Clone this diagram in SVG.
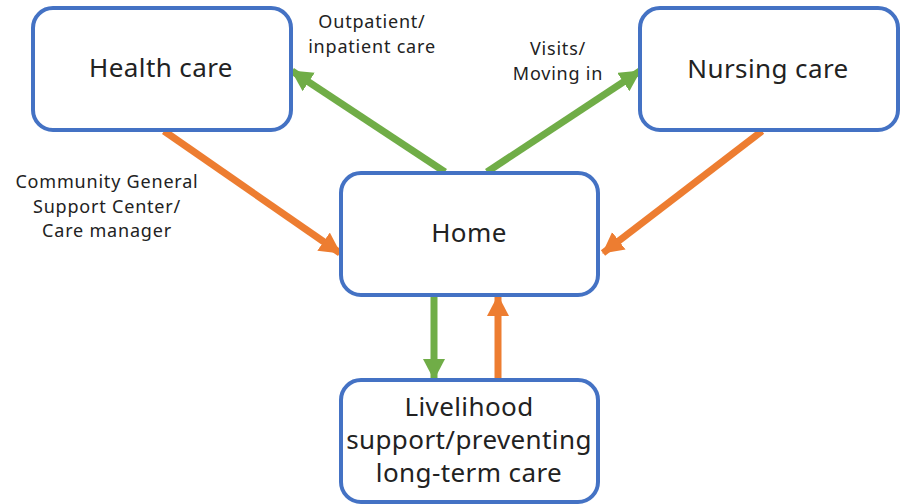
<svg xmlns="http://www.w3.org/2000/svg" width="901" height="504" viewBox="0 0 901 504">
<style>
.box{fill:#fff;stroke:#4472C4;stroke-width:4}
.t{font-family:"Noto Sans","DejaVu Sans",sans-serif;fill:#222;text-anchor:middle}
.big{font-size:26px;letter-spacing:0.4px}
.lbl{font-size:18px;letter-spacing:0.8px}
.g{stroke:#70AD47;stroke-width:7;fill:none}
.o{stroke:#ED7D31;stroke-width:7;fill:none}
</style>
<defs>
<marker id="ag" markerUnits="userSpaceOnUse" markerWidth="24" markerHeight="24" refX="20" refY="11" orient="auto"><path d="M0,0 L21,11 L0,22 Z" fill="#70AD47"/></marker>
<marker id="ao" markerUnits="userSpaceOnUse" markerWidth="24" markerHeight="24" refX="20" refY="11" orient="auto"><path d="M0,0 L21,11 L0,22 Z" fill="#ED7D31"/></marker>
</defs>
<rect width="901" height="504" fill="#fff"/>
<g id="connectors">
<line class="g" x1="445" y1="172" x2="292" y2="71" marker-end="url(#ag)"/>
<line class="g" x1="487" y1="172" x2="640" y2="71" marker-end="url(#ag)"/>
<line class="o" x1="164" y1="131" x2="340" y2="253" marker-end="url(#ao)"/>
<line class="o" x1="762" y1="131" x2="603" y2="253" marker-end="url(#ao)"/>
<line class="g" x1="434" y1="296" x2="434" y2="379" marker-end="url(#ag)"/>
<line class="o" x1="498" y1="379" x2="498" y2="296" marker-end="url(#ao)"/>
<g id="connector-labels">
<text class="t lbl" x="372" y="28">Outpatient/</text>
<text class="t lbl" x="372" y="53">inpatient care</text>
<text class="t lbl" x="558" y="55">Visits/</text>
<text class="t lbl" x="558" y="80">Moving in</text>
<text class="t lbl" x="107" y="188">Community General</text>
<text class="t lbl" x="107" y="213">Support Center/</text>
<text class="t lbl" x="107" y="237">Care manager</text>
</g>
</g>
<g id="health-care">
<rect class="box" x="33" y="8" width="258" height="122" rx="20"/>
<text class="t big" x="161" y="77">Health care</text>
</g>
<g id="nursing-care">
<rect class="box" x="640" y="8" width="258" height="122" rx="20"/>
<text class="t big" x="768" y="78">Nursing care</text>
</g>
<g id="home">
<rect class="box" x="341" y="173" width="257" height="122" rx="20"/>
<text class="t big" x="469" y="242">Home</text>
</g>
<g id="livelihood">
<rect class="box" x="341" y="380" width="257" height="122" rx="20"/>
<text class="t big" x="469" y="416">Livelihood</text>
<text class="t big" x="469" y="449">support/preventing</text>
<text class="t big" x="469" y="482">long-term care</text>
</g>
</svg>
